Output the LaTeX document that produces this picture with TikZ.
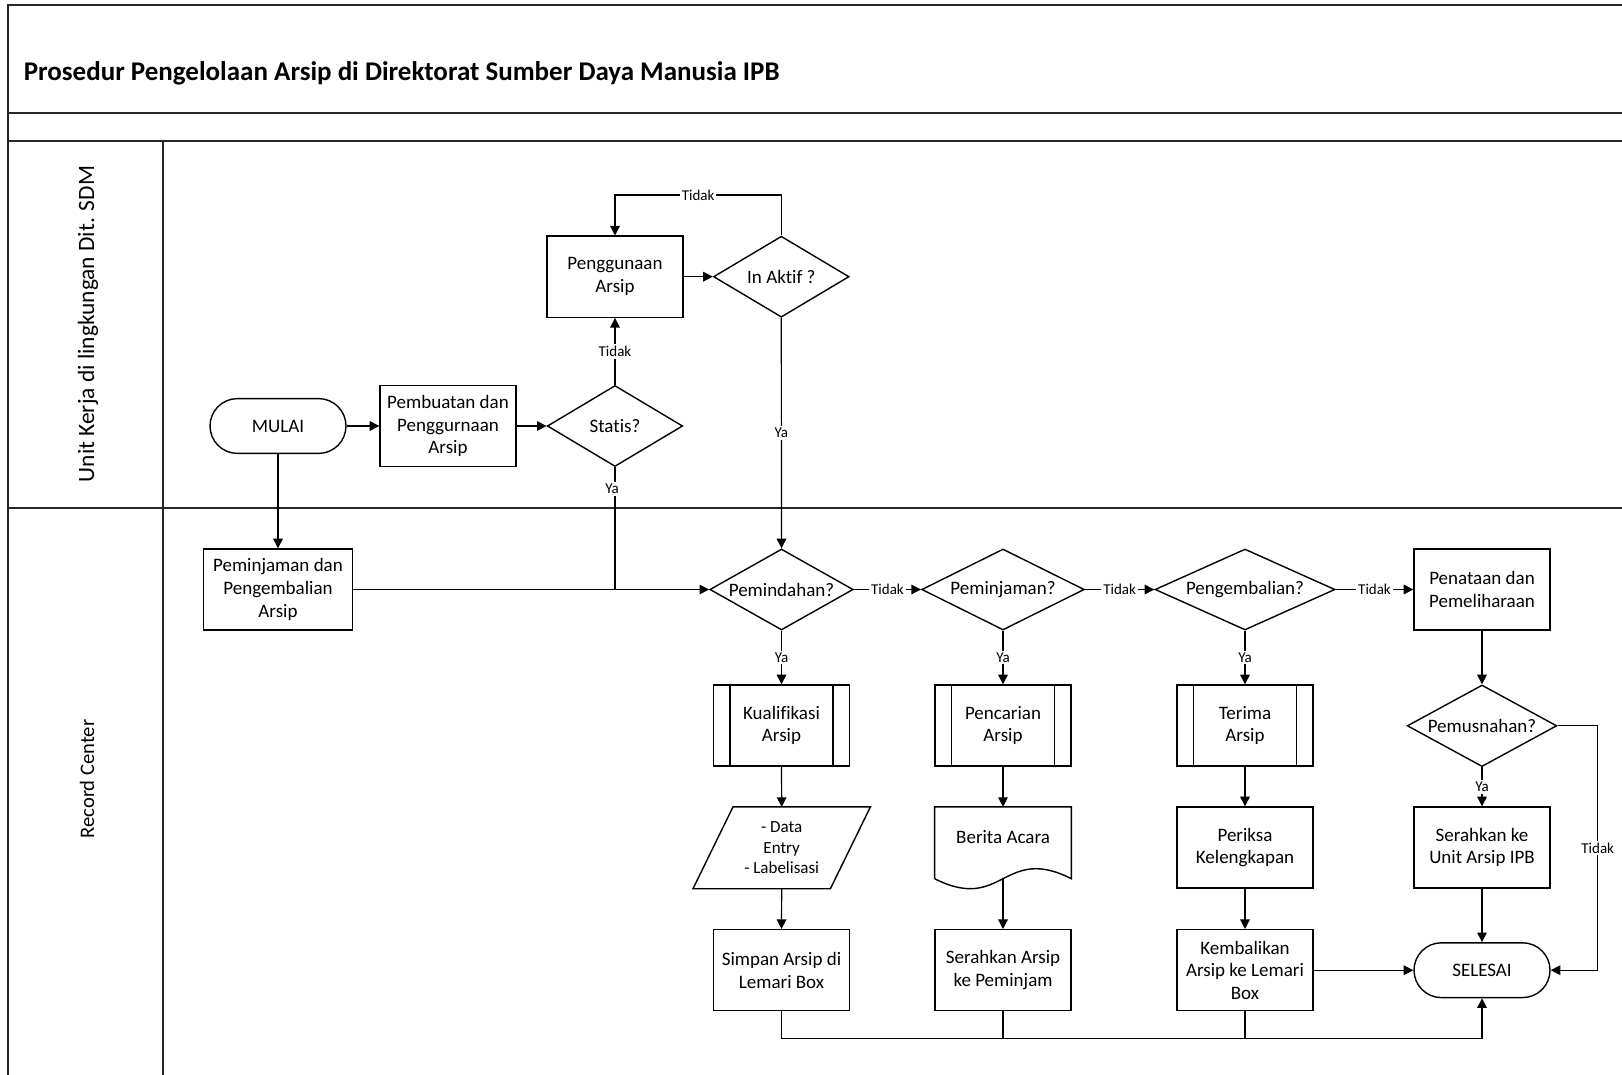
\documentclass[tikz,border=0pt]{standalone}
\usepackage{fontspec}
\setmainfont{Carlito}[Ligatures=NoCommon]
\usetikzlibrary{shapes.geometric,arrows.meta,calc}
\begin{document}
\begin{tikzpicture}[x=0.5pt, y=-0.5pt,
  every node/.append style={font=\fontsize{9.5}{11.3}\selectfont, align=center},
  lane/.style={line width=1pt, draw=black!85},
  proc/.style={draw, line width=0.7pt, rectangle, minimum width=68pt, minimum height=40.5pt, inner sep=1pt},
  predef/.style={proc, path picture={
      \draw[line width=0.7pt] ([xshift=8.3pt]path picture bounding box.north west) -- ([xshift=8.3pt]path picture bounding box.south west);
      \draw[line width=0.7pt] ([xshift=-8.3pt]path picture bounding box.north east) -- ([xshift=-8.3pt]path picture bounding box.south east);}},
  term/.style={draw, line width=0.7pt, rectangle, rounded corners=13.7pt, minimum width=68pt, minimum height=27.4pt},
  decide/.style={draw, line width=0.7pt, diamond, aspect=2, inner sep=0pt, minimum height=40.5pt},
  iobox/.style={rectangle, minimum width=68.3pt, minimum height=40.5pt, inner sep=0pt, font=\fontsize{8.5}{10.2}\selectfont},
  docbox/.style={rectangle, minimum width=68pt, minimum height=35.5pt, inner sep=0pt, text depth=5.4pt},
  flow/.style={line width=0.6pt, -{Triangle[length=4.8pt,width=4.8pt]}},
  link/.style={line width=0.6pt},
  lbl/.style={font=\fontsize{7.5}{9}\selectfont, fill=white, inner sep=1pt},
  lanetitle/.style={rotate=90, anchor=base}]

  % page
  \useasboundingbox (0,0) rectangle (1622,1075);
  \fill[white] (0,0) rectangle (1622,1075);

  % swimlane frame
  \draw[lane] (8.3,1075) -- (8.3,5) -- (1622,5);
  \draw[lane] (8.3,113.3) -- (1622,113.3);
  \draw[lane] (8.3,140.7) -- (1622,140.7);
  \draw[lane] (8.3,507.9) -- (1622,507.9);
  \draw[lane] (162.5,140.7) -- (162.5,1075);

  \node[anchor=base west, font=\fontsize{13.5}{16}\selectfont\bfseries] (title) at (16.7,81)
    {Prosedur Pengelolaan Arsip di Direktorat Sumber Daya Manusia IPB};
  \node[lanetitle, font=\fontsize{11.7}{14}\selectfont] (laneA) at (94,324) {Unit Kerja di lingkungan Dit. SDM};
  \node[lanetitle, font=\fontsize{10.3}{12}\selectfont] (laneB) at (94,779) {Record Center};

  % lane 1: Unit Kerja
  \node[term] (mulai) at (278,426) {MULAI};
  \node[proc] (buat) at (448,426) {Pembuatan dan\\Penggurnaan\\Arsip};
  \node[decide, minimum width=67.7pt] (statis) at (615,426) {Statis?};
  \node[proc] (guna) at (615,276.7) {Penggunaan\\Arsip};
  \node[decide, minimum width=67.8pt] (inaktif) at (781.3,276.7) {In Aktif ?};

  % lane 2: Record Center
  \node[proc, minimum width=74.5pt] (pinjamkembali) at (278,589.5) {Peminjaman dan\\Pengembalian\\Arsip};
  \node[decide, minimum width=71.7pt] (pindah) at (781.5,589.5) {Pemindahan?};
  \node[decide, minimum width=81.3pt] (pinjam) at (1003,589.5) {Peminjaman?};
  \node[decide, minimum width=90pt] (kembali) at (1245,589.5) {Pengembalian?};
  \node[proc] (tata) at (1482,589.5) {Penataan dan\\Pemeliharaan};

  \node[predef] (kualifikasi) at (781.5,725.5) {Kualifikasi\\Arsip};
  \node[predef] (cari) at (1003,725.5) {Pencarian\\Arsip};
  \node[predef] (terima) at (1245,725.5) {Terima\\Arsip};
  \node[decide, minimum width=74.8pt, minimum height=40.8pt] (musnah) at (1482,725.8) {Pemusnahan?};

  \node[iobox] (entry) at (781.7,847.8) {- Data\\Entry\\- Labelisasi};
  \draw[line width=0.7pt] ([xshift=10pt]entry.north west) -- ([xshift=10pt]entry.north east)
    -- ([xshift=-10pt]entry.south east) -- ([xshift=-10pt]entry.south west) -- cycle;

  \node[docbox] (berita) at (1003,842.8) {Berita Acara};
  \draw[line width=0.7pt] (berita.south west) -- (berita.north west) -- (berita.north east) -- (berita.south east)
    .. controls ([yshift=17.3pt]berita.south) and ([yshift=-17.3pt]berita.south) .. (berita.south west);

  \node[proc] (periksa) at (1245,847.5) {Periksa\\Kelengkapan};
  \node[proc] (serahunit) at (1482,847.5) {Serahkan ke\\Unit Arsip IPB};

  \node[proc] (simpan) at (781.5,970.2) {Simpan Arsip di\\Lemari Box};
  \node[proc] (serahpinjam) at (1003,970.2) {Serahkan Arsip\\ke Peminjam};
  \node[proc] (kembalikan) at (1245,970.2) {Kembalikan\\Arsip ke Lemari\\Box};
  \node[term] (selesai) at (1482,970.2) {SELESAI};

  % connectors, lane 1
  \draw[flow] (mulai.east) -- (buat.west);
  \draw[flow] (buat.east) -- (statis.west);
  \draw[flow] (statis.north) -- node[lbl]{Tidak} (guna.south);
  \draw[flow] (guna.east) -- (inaktif.west);
  \coordinate (looptop) at (781.3,195);
  \draw[flow] (inaktif.north) -- (looptop) -- node[lbl]{Tidak} (looptop -| guna.north) -- (guna.north);
  \draw[flow] (inaktif.south) -- node[lbl]{Ya} (pindah.north);
  \draw[flow] (mulai.south) -- (pinjamkembali.north);
  \draw[link] (statis.south) -- node[lbl, pos=0.18, xshift=-1.5pt]{Ya} (statis.south |- pindah.west);

  % connectors, lane 2
  \draw[flow] (pinjamkembali.east) -- (pindah.west);
  \draw[flow] (pindah.east) -- node[lbl]{Tidak} (pinjam.west);
  \draw[flow] (pinjam.east) -- node[lbl]{Tidak} (kembali.west);
  \draw[flow] (kembali.east) -- node[lbl]{Tidak} (tata.west);
  \draw[flow] (pindah.south) -- node[lbl]{Ya} (kualifikasi.north);
  \draw[flow] (pinjam.south) -- node[lbl]{Ya} (cari.north);
  \draw[flow] (kembali.south) -- node[lbl]{Ya} (terima.north);
  \draw[flow] (tata.south) -- (musnah.north);
  \draw[flow] (musnah.south) -- node[lbl]{Ya} (serahunit.north);
  \draw[flow] (kualifikasi.south) -- (entry.north);
  \draw[flow] (entry.south) -- (simpan.north);
  \draw[flow] (cari.south) -- (berita.north);
  \draw[flow] (berita.south) -- (serahpinjam.north);
  \draw[flow] (terima.south) -- (periksa.north);
  \draw[flow] (periksa.south) -- (kembalikan.north);
  \draw[flow] (serahunit.south) -- (selesai.north);
  \draw[flow] (kembalikan.east) -- (selesai.west);
  \coordinate (sidebend) at (1597.7,725.8);
  \draw[flow] (musnah.east) -- (sidebend) -- node[lbl]{Tidak} (sidebend |- selesai.east) -- (selesai.east);
  \coordinate (bus) at (1482,1038.3);
  \draw[flow] (simpan.south) -- (simpan.south |- bus) -- (bus) -- (selesai.south);
  \draw[link] (serahpinjam.south) -- (serahpinjam.south |- bus);
  \draw[link] (kembalikan.south) -- (kembalikan.south |- bus);
\end{tikzpicture}
\end{document}
